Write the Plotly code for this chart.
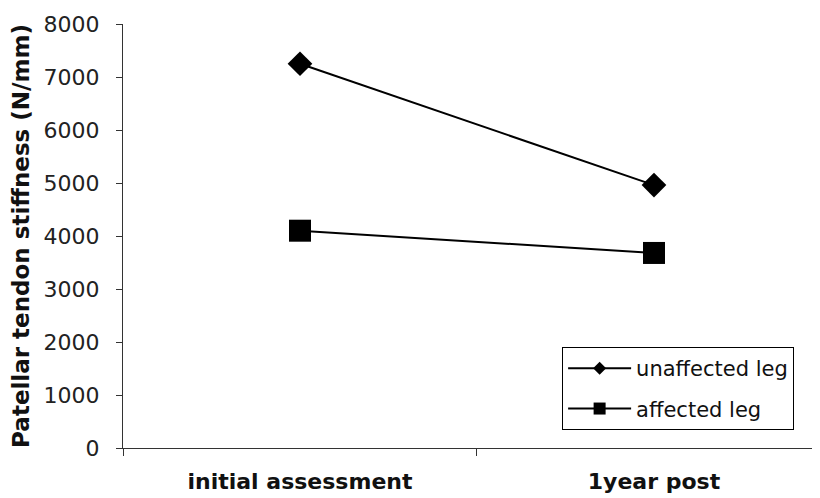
import plotly.graph_objects as go

categories = ["initial assessment", "1year post"]
unaffected_leg = [7250, 4960]
affected_leg = [4100, 3680]
y_ticks = [0, 1000, 2000, 3000, 4000, 5000, 6000, 7000, 8000]

fig = go.Figure()
fig.add_trace(go.Scatter(
    x=categories, y=unaffected_leg, name="unaffected leg", mode="lines+markers",
    line=dict(color="black", width=2),
    marker=dict(symbol="diamond", size=19, color="black"),
    showlegend=False,
))
fig.add_trace(go.Scatter(
    x=categories, y=affected_leg, name="affected leg", mode="lines+markers",
    line=dict(color="black", width=2),
    marker=dict(symbol="square", size=22, color="black"),
    showlegend=False,
))
# legend entries (smaller symbols, as in the reference legend)
fig.add_trace(go.Scatter(
    x=[None], y=[None], name="unaffected leg", mode="lines+markers",
    line=dict(color="black", width=2),
    marker=dict(symbol="diamond", size=10, color="black"),
    legendgroup="a",
))
fig.add_trace(go.Scatter(
    x=[None], y=[None], name="affected leg", mode="lines+markers",
    line=dict(color="black", width=2),
    marker=dict(symbol="square", size=12, color="black"),
    legendgroup="b",
))

fig.update_layout(
    width=812, height=490,
    margin=dict(l=115, r=0, t=16, b=50),
    paper_bgcolor="white", plot_bgcolor="white",
    font=dict(family="DejaVu Sans", color="#111"),
    showlegend=True,
    legend=dict(
        x=0.63, y=0.238, xanchor="left", yanchor="top",
        bgcolor="white", bordercolor="black", borderwidth=1,
        font=dict(family="DejaVu Sans", size=21, color="#111"),
        itemwidth=63, tracegroupgap=10,
        traceorder="grouped",
    ),
    xaxis=dict(
        type="category", range=[-0.5, 1.469],
        tickson="boundaries", ticks="outside", ticklen=7, tickcolor="#333",
        showline=True, linecolor="#333", linewidth=1,
        showgrid=False, zeroline=False,
        tickfont=dict(family="DejaVu Sans", size=22, color="#111", weight="bold"),
        ticklabelstandoff=14,
    ),
    yaxis=dict(
        range=[0, 8000], tickvals=y_ticks,
        ticks="outside", ticklen=6, tickcolor="#333",
        showline=True, linecolor="#333", linewidth=1,
        showgrid=False, zeroline=False,
        tickfont=dict(family="DejaVu Sans", size=22, color="#222"),
        ticklabelstandoff=12,
        title=dict(text="<b>Patellar tendon stiffness (N/mm)</b>",
                   font=dict(family="DejaVu Sans", size=23, color="#111"),
                   standoff=8),
    ),
)

fig.write_html("out.html")
